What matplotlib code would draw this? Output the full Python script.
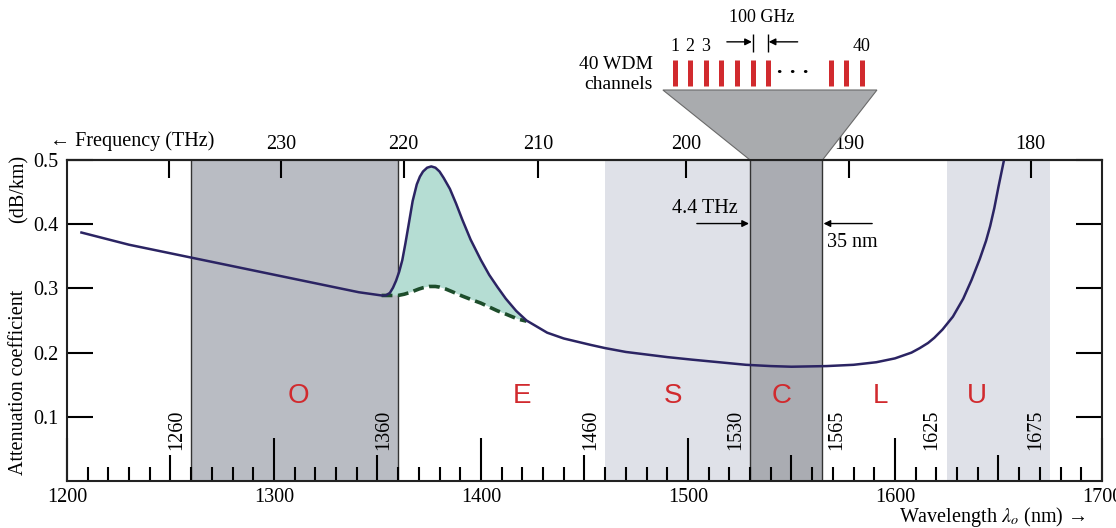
import numpy as np
import matplotlib
matplotlib.use('Agg')
import matplotlib.pyplot as plt
from matplotlib.patches import Polygon

plt.rcParams['font.family'] = ['Liberation Serif', 'DejaVu Serif']
plt.rcParams['mathtext.fontset'] = 'stix'

# attenuation curve (solid)
lam = [1207, 1230, 1260, 1290, 1320, 1341, 1352, 1354, 1356, 1357.5, 1359, 1360.5, 1362, 1363.5,
       1365, 1367, 1369, 1370.5, 1372, 1374, 1376, 1378, 1380, 1382, 1385, 1388, 1391, 1395,
       1400, 1404, 1408, 1412, 1417, 1422, 1432, 1440, 1453, 1460, 1470, 1480, 1490, 1502,
       1515, 1528, 1540, 1550, 1567, 1580, 1591, 1600, 1608, 1612, 1616, 1619, 1623, 1628,
       1633, 1637, 1641, 1644, 1646, 1648, 1650, 1652.5]
att = [0.387, 0.368, 0.348, 0.328, 0.308, 0.294, 0.289, 0.289, 0.293, 0.301, 0.312, 0.326, 0.344,
       0.370, 0.398, 0.436, 0.462, 0.474, 0.482, 0.488, 0.490, 0.488, 0.482, 0.472, 0.455, 0.432,
       0.407, 0.376, 0.344, 0.321, 0.302, 0.284, 0.265, 0.250, 0.231, 0.222, 0.212, 0.207, 0.201,
       0.197, 0.193, 0.189, 0.185, 0.181, 0.179, 0.178, 0.179, 0.181, 0.185, 0.191, 0.200, 0.207,
       0.215, 0.223, 0.236, 0.256, 0.284, 0.313, 0.346, 0.374, 0.397, 0.425, 0.458, 0.497]
# without the water peak (dashed)
dlam = [1352, 1356, 1360, 1363, 1366, 1370, 1372, 1375, 1378, 1380, 1383, 1386, 1391, 1395,
        1400, 1404, 1408, 1412, 1415, 1418, 1422]
datt = [0.289, 0.289, 0.289, 0.291, 0.294, 0.299, 0.301, 0.303, 0.303, 0.302, 0.299, 0.295,
        0.288, 0.283, 0.277, 0.271, 0.265, 0.260, 0.256, 0.252, 0.249]

bands = ['O', 'E', 'S', 'C', 'L', 'U']
band_edges = [1260, 1360, 1460, 1530, 1565, 1625, 1675]
band_mid = [1311.6, 1420, 1493, 1545.2, 1593.2, 1639.5]
freq_ticks = [240, 230, 220, 210, 200, 190, 180]
chan_x = [1493.7, 1501, 1508.6, 1516, 1523.7, 1531.3, 1538.6, 1568.9, 1576.3, 1584.1]

c = 299792.458
red = '#d12a2e'
fs = 14.5

fig = plt.figure(figsize=(11.16, 5.28), dpi=100)
ax = fig.add_axes([0.0600, 0.0890, 0.9274, 0.6080])
ax.set_xlim(1200, 1700)
ax.set_ylim(0, 0.5)

# wavelength bands
ax.axvspan(1260, 1360, color='#b9bcc3', lw=0, zorder=0)
ax.axvspan(1460, 1530, color='#dfe1e8', lw=0, zorder=0)
ax.axvspan(1530, 1565, color='#aaacb2', lw=0, zorder=0)
ax.axvspan(1625, 1675, color='#dfe1e8', lw=0, zorder=0)
for b in [1260, 1360, 1530, 1565]:
    ax.axvline(b, color='#333333', lw=1.0, zorder=1)

for b, m in zip(band_mid, bands):
    ax.text(b, 0.133, m, color=red, fontsize=20, family='Liberation Sans',
            ha='center', va='center', zorder=5)
for b in band_edges:
    if b == 1565:
        ax.text(b + 2.5, 0.08, str(b), rotation=90, ha='left', va='center', fontsize=fs, zorder=5)
    else:
        ax.text(b - 2.5, 0.08, str(b), rotation=90, ha='right', va='center', fontsize=fs, zorder=5)

# curves
ax.plot(lam, att, color='#2b2463', lw=1.8, zorder=4, solid_joinstyle='round')
ax.plot(dlam, datt, color='#1d4d2b', lw=2.6, ls=(0, (3, 1.5)), zorder=3)
seg = [(x, y) for x, y in zip(lam, att) if 1352 <= x <= 1422]
px = [p[0] for p in seg] + dlam[::-1]
py = [p[1] for p in seg] + datt[::-1]
ax.fill(px, py, color='#b5ddd3', lw=0, zorder=2)

# bottom ticks: 100 major, 50 medium, 10 minor
xt = np.arange(1200, 1701, 50)
ax.set_xticks(xt)
ax.set_xticklabels([str(v) if v % 100 == 0 else '' for v in xt])
ax.set_xticks(np.arange(1200, 1701, 10), minor=True)
ax.tick_params(axis='x', which='major', direction='in', length=31, width=1.5, pad=5,
               labelsize=fs, top=False)
ax.tick_params(axis='x', which='minor', direction='in', length=10, width=1.5, top=False)
for t, v in zip(ax.xaxis.get_major_ticks(), xt):
    if v % 100:
        t.tick1line.set_markersize(19)

ax.set_yticks([0.1, 0.2, 0.3, 0.4, 0.5])
ax.set_yticklabels(['0.1', '0.2', '0.3', '0.4', '0.5'])
ax.tick_params(axis='y', direction='in', length=19, width=1.5, pad=6, labelsize=fs,
               left=True, right=True)
for s in ax.spines.values():
    s.set_linewidth(1.5)
    s.set_color('#222222')

# frequency axis on top
def conv(x):
    x = np.asarray(x, dtype=float)
    return c / np.where(x == 0, 1e-9, x)

sec = ax.secondary_xaxis('top', functions=(conv, conv))
sec.set_xticks(freq_ticks)
sec.set_xticklabels([''] + [str(f) for f in freq_ticks[1:]])
sec.tick_params(direction='in', length=13, width=1.5, pad=4, labelsize=fs)
sec.spines['top'].set_linewidth(1.5)
ax.text(1192, 0.53, '\u2190 Frequency (THz)', fontsize=fs, ha='left', va='center')

# funnel with the WDM channels
funnel = Polygon([(1530, 0.5), (1565, 0.5), (1591.3, 0.609), (1487.9, 0.609)], closed=True,
                 facecolor='#a9abae', edgecolor='#6a6a6a', lw=0.8, clip_on=False, zorder=1)
ax.add_patch(funnel)
ax.vlines(chan_x, 0.615, 0.656, colors=red, lw=3.6, clip_on=False)
ax.text(1550.7, 0.636, '\u00b7 \u00b7 \u00b7', fontsize=16, ha='center', va='center', fontweight='bold')
for i, lab in [(0, '1'), (1, '2'), (2, '3'), (9, '40')]:
    ax.text(chan_x[i], 0.664, lab, fontsize=13, ha='center', va='bottom')
ax.vlines([chan_x[5], chan_x[6]], 0.668, 0.697, colors='k', lw=1.0, clip_on=False)
ax.annotate('', xy=(chan_x[5] - 0.4, 0.684), xytext=(1518.8, 0.684), annotation_clip=False,
            arrowprops=dict(arrowstyle='-|>', color='k', lw=1.0, mutation_scale=10, shrinkA=0, shrinkB=0))
ax.annotate('', xy=(chan_x[6] + 0.4, 0.684), xytext=(1553, 0.684), annotation_clip=False,
            arrowprops=dict(arrowstyle='-|>', color='k', lw=1.0, mutation_scale=10, shrinkA=0, shrinkB=0))
ax.text(1535.7, 0.722, '100 GHz', fontsize=13, ha='center', va='center')
ax.text(1483, 0.648, '40 WDM', fontsize=14, ha='right', va='center')
ax.text(1483, 0.617, 'channels', fontsize=14, ha='right', va='center')

# C band width
ax.text(1524, 0.424, '4.4 THz', fontsize=fs, ha='right', va='center')
ax.annotate('', xy=(1529.5, 0.401), xytext=(1504.3, 0.401),
            arrowprops=dict(arrowstyle='-|>', color='k', lw=1.0, mutation_scale=10, shrinkA=0, shrinkB=0))
ax.text(1567, 0.371, '35 nm', fontsize=fs, ha='left', va='center')
ax.annotate('', xy=(1565.5, 0.401), xytext=(1589, 0.401),
            arrowprops=dict(arrowstyle='-|>', color='k', lw=1.0, mutation_scale=10, shrinkA=0, shrinkB=0))

fig.text(0.017, 0.100, 'Attenuation coefficient', rotation=90, fontsize=fs, ha='center', va='bottom')
fig.text(0.017, 0.706, '(dB/km)', rotation=90, fontsize=fs, ha='center', va='top')
fig.text(0.806, 0.021, 'Wavelength $\\lambda_o$ (nm) \u2192', fontsize=fs, ha='left', va='center')

fig.savefig('out.png', dpi=100)
plt.close()
